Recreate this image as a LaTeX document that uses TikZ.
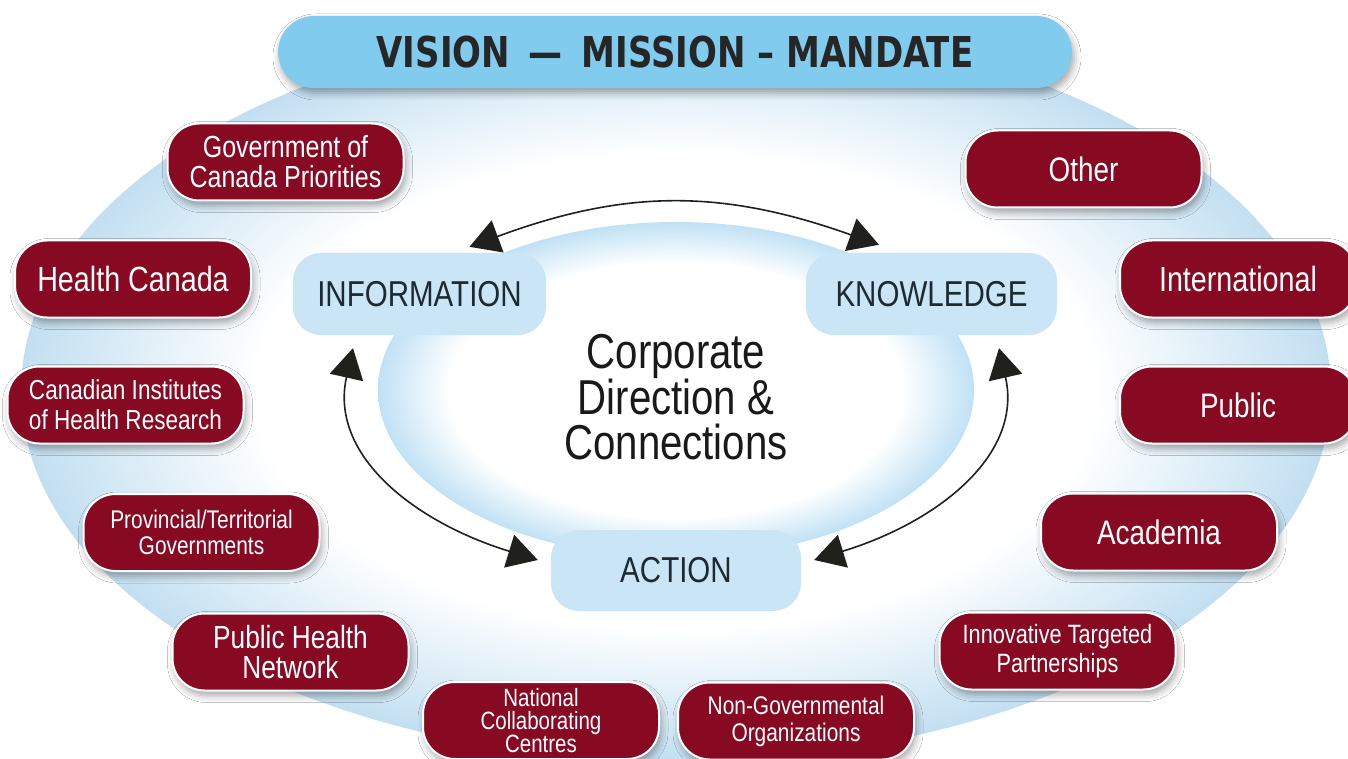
\documentclass[tikz,border=0pt]{standalone}
\usepackage{fontspec}
\setmainfont{Liberation Sans}[FakeStretch=0.82]
\newfontfamily\titlefont{DejaVu Sans}[FakeStretch=0.8]
\usetikzlibrary{arrows.meta,calc,shadows.blur}
\definecolor{boxred}{RGB}{135,10,34}
\definecolor{titleblue}{RGB}{128,203,238}
\definecolor{softblue}{RGB}{201,229,246}
\definecolor{bgblue}{RGB}{194,223,241}
\definecolor{inblue}{RGB}{192,225,245}
\definecolor{darktext}{RGB}{30,42,50}
\definecolor{arrowdark}{RGB}{32,32,28}
\pgfdeclareradialshading{outerring}{\pgfpoint{0bp}{0bp}}{color(0bp)=(white); color(16bp)=(white); color(25bp)=(bgblue); color(50bp)=(bgblue)}
\pgfdeclareradialshading{innerring}{\pgfpoint{0bp}{0bp}}{color(0bp)=(white); color(19bp)=(white); color(25bp)=(inblue); color(50bp)=(inblue)}
\begin{document}
\begin{tikzpicture}[x=1pt,y=-1pt,
  redbox/.style={draw=white, line width=2pt, fill=boxred, rounded corners=32pt,
    minimum width=236pt, minimum height=77pt, text=white, align=center, inner sep=0pt,
    blur shadow={shadow xshift=2pt, shadow yshift=-5pt, shadow blur radius=7pt, shadow opacity=35}},
  bluebox/.style={fill=softblue, rounded corners=28pt, minimum width=252pt, minimum height=82pt,
    text=darktext, inner sep=0pt, font=\fontsize{36}{38}\selectfont},
  titlebox/.style={fill=titleblue, rounded corners=36pt, minimum width=794pt, minimum height=72pt,
    inner sep=0pt, text=black!85,
    blur shadow={shadow xshift=2pt, shadow yshift=-5pt, shadow blur radius=7pt, shadow opacity=35}},
  biarrow/.style={{Triangle[length=30pt,width=34pt]}-{Triangle[length=30pt,width=34pt]}, line width=1.6pt, draw=arrowdark}
]
\useasboundingbox (0,0) rectangle (1348,759);
\fill[white] (0,0) rectangle (1348,759);
% background ellipses
\shade[shading=outerring] (676,391) ellipse [x radius=655pt, y radius=370pt];
\shade[shading=innerring] (676,390) ellipse [x radius=298pt, y radius=168pt];
% central blue nodes
\node[bluebox, minimum width=253pt] (info) at (419.5,294) {INFORMATION};
\node[bluebox, minimum width=251pt] (know) at (931.5,294) {KNOWLEDGE};
\node[bluebox, minimum width=250pt, minimum height=81pt] (action) at (676,570.5) {ACTION};
\node[align=center, text=black!90, font=\fontsize{49}{45}\selectfont] (core) at (676,397) {Corporate\\Direction \&\\Connections};
% arrows
\draw[biarrow] ($(info.north)+(50,-6)$) .. controls (626,189) and (722,189) .. ($(know.north)+(-52.5,-8)$);
\draw[biarrow] ($(info.south)+(-66.5,13)$) .. controls (329,455) and (414,522) .. ($(action.west)+(-13,-10.5)$);
\draw[biarrow] ($(know.south)+(67.5,13)$) .. controls (1023,455) and (938,522) .. ($(action.east)+(13,-10.5)$);
% partner boxes
\node[redbox, font=\fontsize{30.5}{30}\selectfont] (gov) at (285.5,162) {Government of\\Canada Priorities};
\node[redbox, font=\fontsize{34}{36}\selectfont] (other) at (1083.5,169) {Other};
\node[redbox, font=\fontsize{35}{36}\selectfont] (hc) at (133,279) {Health Canada};
\node[redbox, font=\fontsize{35}{36}\selectfont] (intl) at (1238,279) {International};
\node[redbox, font=\fontsize{27.5}{30}\selectfont] (cihr) at (125.5,405) {Canadian Institutes\\of Health Research};
\node[redbox, font=\fontsize{34}{36}\selectfont] (public) at (1238,405) {Public};
\node[redbox, font=\fontsize{25.5}{26}\selectfont] (pt) at (201.5,532.5) {Provincial/Territorial\\Governments};
\node[redbox, font=\fontsize{34}{36}\selectfont] (acad) at (1159,532) {Academia};
\node[redbox, font=\fontsize{32}{30}\selectfont] (phn) at (290.5,652) {Public Health\\Network};
\node[redbox, font=\fontsize{26.5}{29}\selectfont] (itp) at (1057.5,651) {Innovative Targeted\\Partnerships};
\node[redbox, font=\fontsize{25}{23}\selectfont] (ncc) at (541,720.5) {National\\Collaborating\\Centres};
\node[redbox, font=\fontsize{25.5}{27}\selectfont] (ngo) at (796,721) {Non-Governmental\\Organizations};
% title
\node[titlebox, font=\titlefont\bfseries\fontsize{42.5}{44}\selectfont] (title) at (675,52) {VISION \,—\, MISSION – MANDATE};
\end{tikzpicture}
\end{document}
